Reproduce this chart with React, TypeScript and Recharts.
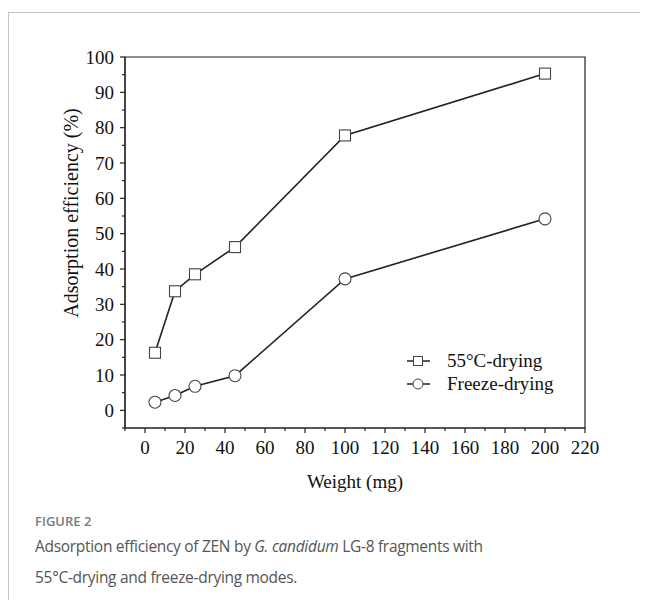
import React from 'react';
import { LineChart, Line, XAxis, YAxis, ReferenceArea } from 'recharts';

const weights = [5, 15, 25, 45, 100, 200];
const drying55 = [16.3, 33.7, 38.5, 46.2, 77.8, 95.3];
const freezeDrying = [2.3, 4.2, 6.8, 9.8, 37.2, 54.2];
const xTicks = [-10, 0, 10, 20, 30, 40, 50, 60, 70, 80, 90, 100, 110, 120, 130, 140, 150, 160, 170, 180, 190, 200, 210, 220];
const yTicks = [-5, 0, 5, 10, 15, 20, 25, 30, 35, 40, 45, 50, 55, 60, 65, 70, 75, 80, 85, 90, 95, 100];
const seriesNames = ['55°C-drying', 'Freeze-drying'];

const data = weights.map((w, i) => ({ w, a: drying55[i], b: freezeDrying[i] }));

const FONT = '"Liberation Serif", "Times New Roman", serif';
const INK = '#222';

const XTick = (props: any) => {
  const { x, y, payload } = props;
  const v = payload.value;
  const major = v >= 0 && v % 20 === 0;
  return (
    <g>
      <line x1={x} x2={x} y1={y} y2={y + (major ? 5 : 3)} stroke={INK} strokeWidth={1.2} />
      {major && (
        <text x={x} y={y + 26} textAnchor="middle" fontFamily={FONT} fontSize={19} fill="#111">
          {v}
        </text>
      )}
    </g>
  );
};

const YTick = (props: any) => {
  const { x, y, payload } = props;
  const v = payload.value;
  const major = v >= 0 && v % 10 === 0;
  return (
    <g>
      <line x1={x} x2={x - (major ? 5 : 3)} y1={y} y2={y} stroke={INK} strokeWidth={1.2} />
      {major && (
        <text x={x - 11} y={y + 6.5} textAnchor="end" fontFamily={FONT} fontSize={19} fill="#111">
          {v}
        </text>
      )}
    </g>
  );
};

const SquareDot = (props: any) => {
  const { cx, cy } = props;
  if (cx == null || cy == null) return null;
  return <rect x={cx - 5.5} y={cy - 5.5} width={11} height={11} fill="#fff" stroke="#444" strokeWidth={1.1} />;
};

const CircleDot = (props: any) => {
  const { cx, cy } = props;
  if (cx == null || cy == null) return null;
  return <circle cx={cx} cy={cy} r={6} fill="#fff" stroke="#444" strokeWidth={1.1} />;
};

const LegendBox = () => (
  <svg width={170} height={50} style={{ position: 'absolute', left: 395, top: 341, display: 'block' }}>
    <line x1={4} x2={27} y1={12} y2={12} stroke={INK} strokeWidth={1.5} />
    <rect x={10.5} y={7.5} width={9} height={9} fill="#fff" stroke="#444" strokeWidth={1} />
    <text x={44} y={18} fontFamily={FONT} fontSize={19} fill="#111">{seriesNames[0]}</text>
    <line x1={4} x2={27} y1={35} y2={35} stroke={INK} strokeWidth={1.5} />
    <circle cx={15} cy={35} r={5} fill="#fff" stroke="#444" strokeWidth={1} />
    <text x={44} y={41} fontFamily={FONT} fontSize={19} fill="#111">{seriesNames[1]}</text>
  </svg>
);

const YLabel = () => (
  <text
    x={63}
    y={205}
    transform="rotate(-90 63 205)"
    textAnchor="middle"
    dominantBaseline="central"
    fontFamily={FONT}
    fontSize={20}
    fill="#111"
  >
    Adsorption efficiency (%)
  </text>
);

const XLabel = () => (
  <text x={347} y={480} textAnchor="middle" fontFamily={FONT} fontSize={19} fill="#111">
    Weight (mg)
  </text>
);

export default function App() {
  return (
    <div style={{ position: 'relative', width: 640, height: 592, overflow: 'hidden' }}>
      <div
        style={{
          position: 'absolute',
          left: 0,
          top: 4,
          width: 900,
          height: 900,
          border: '1px solid #c4c4c4',
          boxSizing: 'border-box',
        }}
      />
      <div style={{ position: 'absolute', left: 0, top: 0 }}>
        <LineChart width={640} height={500} data={data} margin={{ top: 49, right: 63, left: 0, bottom: 0 }}>
          <XAxis
            dataKey="w"
            type="number"
            domain={[-10, 220]}
            ticks={xTicks}
            interval={0}
            tickSize={0}
            tickMargin={0}
            tickLine={false}
            tick={<XTick />}
            height={80}
            stroke={INK}
            strokeWidth={1.2}
            label={<XLabel />}
          />
          <YAxis
            type="number"
            domain={[-5, 100]}
            ticks={yTicks}
            interval={0}
            tickSize={0}
            tickMargin={0}
            tickLine={false}
            tick={<YTick />}
            width={117}
            stroke={INK}
            strokeWidth={1.2}
            label={<YLabel />}
          />
          <ReferenceArea x1={-10} x2={220} y1={-5} y2={100} fill="none" stroke={INK} strokeWidth={1.2} fillOpacity={0} />
          <Line
            type="linear"
            dataKey="a"
            name={seriesNames[0]}
            stroke={INK}
            strokeWidth={1.6}
            dot={<SquareDot />}
            activeDot={false}
            isAnimationActive={false}
          />
          <Line
            type="linear"
            dataKey="b"
            name={seriesNames[1]}
            stroke={INK}
            strokeWidth={1.6}
            dot={<CircleDot />}
            activeDot={false}
            isAnimationActive={false}
          />
        </LineChart>
      </div>
      <LegendBox />
      <div
        style={{
          position: 'absolute',
          left: 27,
          top: 505,
          fontFamily: '"Open Sans", sans-serif',
          fontSize: 13,
          fontWeight: 600,
          color: '#7a7a7a',
          lineHeight: '16px',
        }}
      >
        FIGURE 2
      </div>
      <div
        style={{
          position: 'absolute',
          left: 27,
          top: 523,
          fontFamily: '"Open Sans", sans-serif',
          fontSize: 15.5,
          fontWeight: 400,
          letterSpacing: '-0.3px',
          color: '#555',
          lineHeight: '31px',
          whiteSpace: 'nowrap',
        }}
      >
        Adsorption efficiency of ZEN by <i>G. candidum</i> LG-8 fragments with
        <br />
        55°C-drying and freeze-drying modes.
      </div>
    </div>
  );
}
